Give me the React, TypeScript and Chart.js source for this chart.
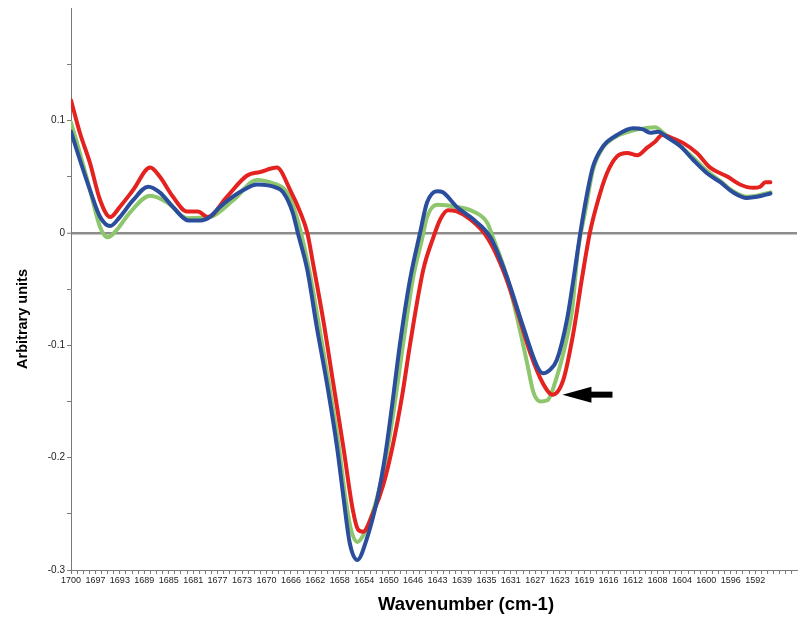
import React, { useEffect, useRef } from 'react';
import { Chart, registerables } from 'chart.js';

Chart.register(...registerables);

// ---- Data (wavenumber cm-1, arbitrary units) ----
const xTickLabels = ['1700', '1697', '1693', '1689', '1685', '1681', '1677', '1673', '1670', '1666', '1662', '1658', '1654', '1650', '1646', '1643', '1639', '1635', '1631', '1627', '1623', '1619', '1616', '1612', '1608', '1604', '1600', '1596', '1592'];
const X_MAX = 1700;
const X_MIN = 1585.4;
const X_STEP = 0.9643;
const Y_MIN = -0.3;
const Y_MAX = 0.2;
const yLabelValues = [0.1, 0, -0.1, -0.2, -0.3];

const redSpectrum: [number, number][] = [
  [1700.0, 0.118], [1698.6, 0.089], [1697.0, 0.062], [1695.4, 0.029], [1693.8, 0.014], [1692.3, 0.023],
  [1690.2, 0.038], [1687.5, 0.058], [1686.0, 0.050], [1683.9, 0.032], [1681.7, 0.019], [1680.0, 0.019],
  [1678.4, 0.014], [1675.4, 0.032], [1672.2, 0.051], [1670.2, 0.054], [1667.5, 0.058], [1665.4, 0.038],
  [1663.8, 0.018], [1662.7, 0.000], [1661.8, -0.027], [1660.2, -0.077], [1658.6, -0.134], [1657.0, -0.191],
  [1655.5, -0.247], [1654.7, -0.264], [1653.9, -0.266], [1652.3, -0.249], [1650.7, -0.224], [1649.2, -0.189],
  [1647.7, -0.144], [1646.5, -0.100], [1644.4, -0.033], [1642.8, -0.004], [1641.7, 0.012], [1640.5, 0.020],
  [1639.1, 0.019], [1637.0, 0.012], [1634.3, -0.004], [1631.8, -0.033], [1629.6, -0.069], [1627.5, -0.107],
  [1625.5, -0.134], [1624.0, -0.144], [1622.3, -0.131], [1620.7, -0.089], [1619.3, -0.039], [1618.1, 0.000],
  [1616.8, 0.029], [1615.4, 0.053], [1613.8, 0.068], [1612.2, 0.071], [1610.6, 0.069], [1609.0, 0.076],
  [1607.8, 0.081], [1606.7, 0.087], [1605.4, 0.085], [1603.4, 0.080], [1601.2, 0.071], [1599.1, 0.058],
  [1596.4, 0.050], [1594.4, 0.043], [1592.3, 0.040], [1591.2, 0.041], [1590.4, 0.045], [1589.6, 0.045],
];

const blueSpectrum: [number, number][] = [
  [1700.0, 0.090], [1698.6, 0.065], [1697.0, 0.038], [1695.4, 0.014], [1693.8, 0.006], [1692.3, 0.014],
  [1690.2, 0.029], [1687.8, 0.041], [1686.0, 0.036], [1683.9, 0.023], [1681.5, 0.011], [1679.6, 0.011],
  [1678.1, 0.014], [1676.5, 0.023], [1672.8, 0.038], [1670.6, 0.043], [1667.5, 0.040], [1666.5, 0.036],
  [1665.0, 0.018], [1664.2, 0.000], [1662.7, -0.033], [1661.2, -0.084], [1659.6, -0.134], [1658.0, -0.191],
  [1657.0, -0.235], [1656.0, -0.276], [1654.8, -0.291], [1653.3, -0.272], [1651.7, -0.238], [1650.4, -0.198],
  [1649.3, -0.153], [1648.1, -0.100], [1646.5, -0.042], [1644.9, 0.000], [1643.8, 0.027], [1642.2, 0.037],
  [1641.3, 0.036], [1639.1, 0.023], [1636.5, 0.012], [1633.8, -0.004], [1631.2, -0.039], [1628.6, -0.084],
  [1626.4, -0.119], [1625.5, -0.125], [1624.4, -0.122], [1623.3, -0.113], [1621.7, -0.077], [1620.7, -0.042],
  [1619.6, 0.000], [1618.5, 0.036], [1617.6, 0.059], [1616.0, 0.077], [1613.8, 0.087], [1611.3, 0.093],
  [1609.7, 0.092], [1608.6, 0.089], [1607.3, 0.090], [1605.9, 0.085], [1603.8, 0.077], [1601.8, 0.065],
  [1599.6, 0.053], [1597.5, 0.045], [1595.5, 0.036], [1593.3, 0.031], [1591.7, 0.032], [1589.6, 0.035],
];

const greenSpectrum: [number, number][] = [
  [1700.0, 0.098], [1698.6, 0.071], [1697.0, 0.038], [1695.4, 0.005], [1694.2, -0.004], [1692.7, 0.003],
  [1690.7, 0.018], [1687.5, 0.033], [1684.8, 0.027], [1681.7, 0.013], [1678.1, 0.014], [1674.4, 0.029],
  [1670.6, 0.047], [1668.1, 0.044], [1666.2, 0.038], [1665.0, 0.025], [1663.7, 0.000], [1662.4, -0.033],
  [1660.8, -0.084], [1659.3, -0.134], [1657.7, -0.191], [1656.7, -0.235], [1655.8, -0.264], [1654.8, -0.275],
  [1653.6, -0.266], [1652.0, -0.242], [1650.4, -0.204], [1649.0, -0.156], [1647.7, -0.104], [1646.0, -0.040],
  [1644.6, -0.006], [1643.8, 0.014], [1642.2, 0.025], [1639.1, 0.023], [1636.5, 0.019], [1634.3, 0.009],
  [1633.4, -0.004], [1631.2, -0.039], [1629.6, -0.075], [1628.0, -0.116], [1627.0, -0.142], [1625.9, -0.150],
  [1624.8, -0.149], [1623.3, -0.128], [1621.7, -0.093], [1620.9, -0.069], [1620.0, -0.017], [1618.8, 0.020],
  [1617.6, 0.056], [1616.0, 0.076], [1613.8, 0.086], [1611.3, 0.091], [1609.4, 0.093], [1607.8, 0.094],
  [1606.5, 0.089], [1603.8, 0.077], [1601.8, 0.067], [1599.6, 0.055], [1597.5, 0.046], [1595.5, 0.037],
  [1593.3, 0.032], [1591.7, 0.033], [1589.6, 0.036],
];

const X_TITLE = 'Wavenumber (cm-1)';
const Y_TITLE = 'Arbitrary units';

const FONT = '"Liberation Sans", Arial, Helvetica, sans-serif';
const AXIS_COLOR = '#7a7a7a';

const toPoints = (s: [number, number][]) => s.map(([x, y]) => ({ x, y }));

const overlayPlugin = {
  id: 'overlay',
  afterDatasetsDraw(chart: any) {
    const { ctx, scales } = chart;
    const xs = scales.x;
    const ys = scales.y;
    // arrow pointing at the red minimum of the second band
    let minIdx = -1;
    redSpectrum.forEach(([x, y], i) => {
      if (x < 1635 && x > 1615 && (minIdx < 0 || y < redSpectrum[minIdx][1])) minIdx = i;
    });
    const tipX = xs.getPixelForValue(redSpectrum[minIdx][0]) + 10;
    const tipY = ys.getPixelForValue(redSpectrum[minIdx][1]);
    ctx.save();
    ctx.fillStyle = '#000';
    ctx.beginPath();
    ctx.moveTo(tipX, tipY);
    ctx.lineTo(tipX + 29, tipY - 8);
    ctx.lineTo(tipX + 29, tipY + 8);
    ctx.closePath();
    ctx.fill();
    ctx.fillRect(tipX + 27, tipY - 3, 23, 6);
    ctx.restore();
  },
  afterDraw(chart: any) {
    const { ctx } = chart;
    ctx.save();
    ctx.fillStyle = '#000';
    ctx.textAlign = 'center';
    ctx.textBaseline = 'middle';
    ctx.font = `bold 14.5px ${FONT}`;
    ctx.translate(23, 319);
    ctx.rotate(-Math.PI / 2);
    ctx.fillText(Y_TITLE, 0, 0);
    ctx.restore();
    ctx.save();
    ctx.fillStyle = '#000';
    ctx.textAlign = 'center';
    ctx.textBaseline = 'middle';
    ctx.font = `bold 18.5px ${FONT}`;
    ctx.fillText(X_TITLE, 466, 605);
    ctx.restore();
  },
};

export default function App() {
  const canvasRef = useRef<HTMLCanvasElement | null>(null);

  useEffect(() => {
    if (!canvasRef.current) return;
    const chart = new Chart(canvasRef.current, {
      type: 'line',
      data: {
        datasets: [
          { label: 'blue', data: toPoints(blueSpectrum), borderColor: '#2a4d9c' },
          { label: 'red', data: toPoints(redSpectrum), borderColor: '#e4221f' },
          { label: 'green', data: toPoints(greenSpectrum), borderColor: '#8dc66c' },
        ],
      },
      options: {
        animation: false,
        responsive: false,
        maintainAspectRatio: false,
        layout: { padding: { top: 8, right: 2, left: 0, bottom: 0 } },
        plugins: { legend: { display: false }, tooltip: { enabled: false }, title: { display: false } },
        elements: {
          point: { radius: 0 },
          line: { borderWidth: 4, cubicInterpolationMode: 'monotone', borderJoinStyle: 'round', borderCapStyle: 'round', fill: false },
        },
        scales: {
          x: {
            type: 'linear',
            reverse: true,
            min: X_MIN,
            max: X_MAX,
            afterBuildTicks: (scale: any) => {
              const t: { value: number }[] = [];
              for (let i = 0; X_MAX - i * X_STEP >= X_MIN; i++) t.push({ value: X_MAX - i * X_STEP });
              scale.ticks = t;
            },
            afterFit: (scale: any) => {
              scale.height = 47;
            },
            ticks: {
              autoSkip: false,
              maxRotation: 0,
              minRotation: 0,
              padding: 1,
              color: '#222',
              font: { size: 9, family: FONT },
              callback: (_v: any, i: number) => (i % 4 === 0 ? xTickLabels[i / 4] ?? '' : ''),
            },
            grid: { drawOnChartArea: false, drawTicks: true, tickLength: 4, color: AXIS_COLOR, tickColor: AXIS_COLOR },
            border: { color: AXIS_COLOR, width: 1 },
          },
          y: {
            type: 'linear',
            min: Y_MIN,
            max: Y_MAX,
            afterBuildTicks: (scale: any) => {
              const t: { value: number }[] = [];
              for (let k = -6; k <= 3; k++) t.push({ value: k * 0.05 });
              scale.ticks = t;
            },
            afterFit: (scale: any) => {
              scale.width = 71;
            },
            ticks: {
              padding: 2,
              color: '#222',
              font: { size: 10, family: FONT },
              callback: (v: any) => {
                const match = yLabelValues.find((l) => Math.abs(l - Number(v)) < 1e-9);
                return match === undefined ? '' : String(match);
              },
            },
            grid: {
              drawOnChartArea: true,
              drawTicks: true,
              tickLength: 4,
              color: (c: any) => (c.tick && Math.abs(c.tick.value) < 1e-9 ? '#8c8c8c' : 'rgba(0,0,0,0)'),
              lineWidth: (c: any) => (c.tick && Math.abs(c.tick.value) < 1e-9 ? 2.5 : 1),
              tickColor: AXIS_COLOR,
              tickWidth: 1,
            },
            border: { color: AXIS_COLOR, width: 1 },
          },
        },
      } as any,
      plugins: [overlayPlugin],
    });
    return () => chart.destroy();
  }, []);

  return (
    <div style={{ position: 'absolute', left: 0, top: 0, width: 799, height: 617, background: '#fff' }}>
      <canvas ref={canvasRef} width={799} height={617} style={{ display: 'block' }} />
    </div>
  );
}
